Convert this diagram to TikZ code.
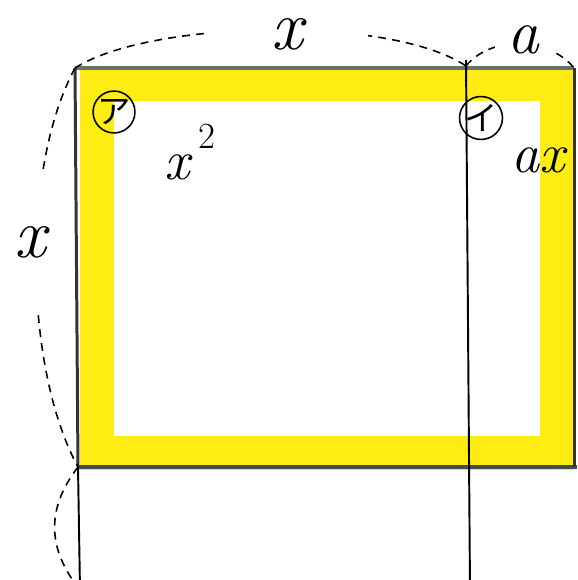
\documentclass[tikz,border=0pt]{standalone}
\usepackage{fontspec}
\newfontfamily\cjk{Noto Sans CJK JP}
\definecolor{marker}{RGB}{255,236,18}
\definecolor{edgegray}{RGB}{105,110,110}

\begin{document}
\begin{tikzpicture}[x=0.02cm, y=-0.02cm,
    dim/.style={dashed, line width=0.9pt, dash pattern=on 4.5pt off 3.5pt},
    dimlabel/.style={fill=white, inner sep=1pt},
    circlemark/.style={draw, circle, line width=0.9pt, minimum size=0.8cm, inner sep=0pt, font=\cjk\fontsize{19}{19}\selectfont}]
    \useasboundingbox (0,0) rectangle (577,580);
    \clip (0,0) rectangle (577,580);
    % corners
    \coordinate (tl) at (75,68);
    \coordinate (tm) at (466,66);
    \coordinate (tr) at (574,68);
    \coordinate (bl) at (78,467);
    \coordinate (bm) at (468,467);
    \coordinate (br) at (577,467);
    \coordinate (ll) at (80,590);
    \coordinate (ml) at (470,590);
    % yellow marker band
    \draw[marker, line width=0.68cm, line join=miter] (97,84) rectangle (557,453);
    % rectangle edges
    \draw[edgegray, line width=2.3pt] (tl) -- (tr);
    \draw[edgegray!70!black, line width=2.3pt] (bl) -- (br);
    \draw[black!80, line width=1.7pt] (tl) -- (bl);
    \draw[black!80, line width=1.7pt] (tr) -- (574,467);
    \draw[line width=1.1pt] (bl) -- (ll);
    \draw[line width=1.1pt] (466,60) -- (ml);
    % dimension arcs
    \draw[dim] (tl) .. controls (150,20) and (390,15) .. (tm);
    \draw[dim] (tm) .. controls (490,36) and (548,36) .. (tr);
    \draw[dim] (tl) .. controls (20,170) and (25,370) .. (bl);
    \draw[dim] (bl) .. controls (45,510) and (48,550) .. (ll);
    \node[dimlabel, inner xsep=1.3cm, font=\itshape\fontsize{40}{40}\selectfont] (lblTop) at (287,34) {x};
    \node[dimlabel, inner xsep=0.25cm, font=\itshape\fontsize{36}{40}\selectfont] (lblA) at (523,40) {a};
    \node[dimlabel, inner ysep=1.1cm, font=\itshape\fontsize{40}{40}\selectfont] (lblLeft) at (30,242) {x};
    % areas
    \node[circlemark] (markA) at (114,112) {ア};
    \node[circlemark] (markI) at (481,118) {イ};
    \node[font=\itshape\fontsize{32}{32}\selectfont] (sqLabel) at (190,152) {x\,\raisebox{0.55em}{\upshape\fontsize{21}{21}\selectfont 2}};
    \node[font=\itshape\fontsize{32}{32}\selectfont] (rectLabel) at (538,160) {ax};
\end{tikzpicture}
\end{document}
